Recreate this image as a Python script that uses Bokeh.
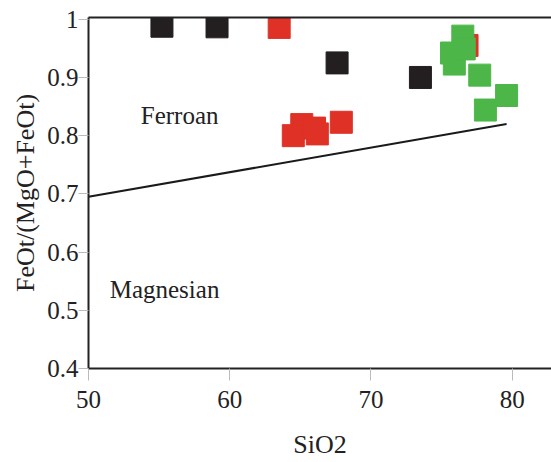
from bokeh.plotting import figure
from bokeh.models import Range1d, FixedTicker, LinearAxis, Label
from bokeh.embed import file_html
from bokeh.resources import INLINE

# ---- data ----
black_sio2 = [55.2, 59.1, 67.6, 73.5]
black_ratio = [0.988, 0.987, 0.925, 0.900]

red_sio2 = [63.5, 76.8, 65.1, 64.5, 66.0, 66.2, 67.9]
red_ratio = [0.986, 0.955, 0.819, 0.800, 0.813, 0.803, 0.823]

green_sio2 = [76.5, 75.7, 75.9, 76.6, 77.7, 79.6, 78.1]
green_ratio = [0.971, 0.942, 0.923, 0.949, 0.904, 0.869, 0.844]

boundary_sio2 = [50.0, 79.6]
boundary_ratio = [0.695, 0.820]

x_ticks = [50, 60, 70, 80]
y_ticks = [0.4, 0.5, 0.6, 0.7, 0.8, 0.9, 1.0]
y_tick_labels = ["0.4", "0.5", "0.6", "0.7", "0.8", "0.9", "1"]

FONT = "Liberation Serif"
FS = "25px"

p = figure(width=551, height=462, output_backend="svg", toolbar_location=None,
           x_range=Range1d(50, 82.78), y_range=Range1d(0.4, 1.003),
           min_border_left=88, min_border_top=17, min_border_bottom=94, min_border_right=0,
           x_axis_label="SiO2", y_axis_label="FeOt/(MgO+FeOt)")
p.outline_line_color = None
p.grid.visible = False
p.background_fill_color = "white"
p.border_fill_color = "white"

for ax in (p.xaxis[0], p.yaxis[0]):
    ax.axis_line_color = "#222222"
    ax.axis_line_width = 2
    ax.major_tick_line_color = "#bbbbbb"
    ax.major_tick_line_width = 1
    ax.major_tick_in = 0
    ax.minor_tick_line_color = None
    ax.major_label_text_font = FONT
    ax.major_label_text_font_size = FS
    ax.major_label_text_color = "#222222"
    ax.axis_label_text_font = FONT
    ax.axis_label_text_font_size = "26px"
    ax.axis_label_text_font_style = "normal"
    ax.axis_label_text_color = "#222222"

p.xaxis[0].ticker = FixedTicker(ticks=x_ticks)
p.xaxis[0].major_tick_out = 12
p.xaxis[0].major_label_standoff = 10
p.xaxis[0].axis_label_standoff = 19

p.yaxis[0].ticker = FixedTicker(ticks=y_ticks)
p.yaxis[0].major_label_overrides = {t: l for t, l in zip(y_ticks, y_tick_labels)}
p.yaxis[0].major_tick_out = 10
p.yaxis[0].major_label_standoff = 0
p.yaxis[0].axis_label_standoff = 4

top = LinearAxis(ticker=FixedTicker(ticks=[]), major_label_text_font_size="0px",
                 major_tick_out=0, major_tick_in=0, major_label_standoff=0,
                 axis_line_color="#222222", axis_line_width=2, minor_tick_line_color=None)
p.add_layout(top, "above")

p.line(boundary_sio2, boundary_ratio, line_color="#1a1a1a", line_width=2)

p.scatter(black_sio2, black_ratio, marker="square", size=22,
          fill_color="#231f20", line_color="#231f20")
p.scatter(red_sio2, red_ratio, marker="square", size=22,
          fill_color="#e03127", line_color="#e03127")
p.scatter(green_sio2, green_ratio, marker="square", size=22,
          fill_color="#4cb748", line_color="#4cb748")

p.add_layout(Label(x=53.7, y=0.835, text="Ferroan", text_font=FONT, text_font_size=FS,
                   text_color="#222222", text_baseline="alphabetic"))
p.add_layout(Label(x=51.5, y=0.535, text="Magnesian", text_font=FONT, text_font_size=FS,
                   text_color="#222222", text_baseline="alphabetic"))

open("out.html", "w").write(file_html(p, INLINE))
